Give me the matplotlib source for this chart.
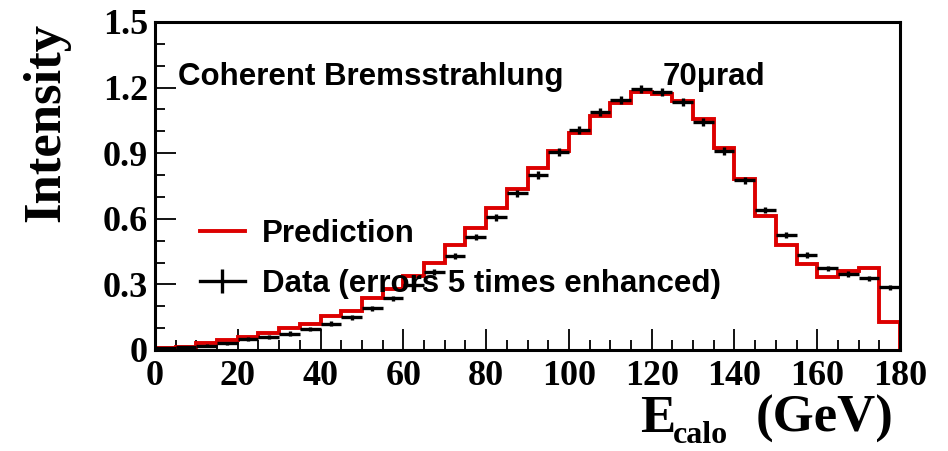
import matplotlib
matplotlib.use("Agg")
import matplotlib.pyplot as plt
from matplotlib.lines import Line2D
import numpy as np

# bins of 5 GeV from 0 to 180
bin_edges = np.arange(0, 181, 5)
prediction = [0.01, 0.015, 0.03, 0.045, 0.06, 0.08, 0.10, 0.12, 0.155, 0.18,
              0.236, 0.28, 0.34, 0.40, 0.48, 0.56, 0.65, 0.735, 0.834, 0.91,
              0.994, 1.07, 1.13, 1.18, 1.173, 1.138, 1.055, 0.925, 0.78, 0.613,
              0.48, 0.393, 0.332, 0.362, 0.377, 0.126]
data = [0.01, 0.015, 0.02, 0.03, 0.05, 0.06, 0.075, 0.095, 0.12, 0.15,
        0.19, 0.236, 0.297, 0.357, 0.43, 0.517, 0.606, 0.716, 0.80, 0.905,
        1.005, 1.088, 1.143, 1.195, 1.18, 1.136, 1.042, 0.91, 0.776, 0.64,
        0.525, 0.435, 0.373, 0.347, 0.327, 0.286]
data_err = [0.004, 0.005, 0.006, 0.007, 0.008, 0.009, 0.010, 0.010, 0.011, 0.012,
            0.012, 0.013, 0.013, 0.014, 0.015, 0.015, 0.016, 0.016, 0.017, 0.017,
            0.018, 0.018, 0.018, 0.018, 0.018, 0.018, 0.017, 0.017, 0.016, 0.015,
            0.014, 0.013, 0.012, 0.012, 0.012, 0.012]

serif = "Liberation Serif"
sans = "Liberation Sans"

fig = plt.figure(figsize=(9.48, 4.51), dpi=100)
ax = fig.add_axes([155/948, 1-350/451, 745/948, 328/451])

centers = 0.5 * (bin_edges[:-1] + bin_edges[1:])
half = 0.5 * np.diff(bin_edges)

ax.stairs(prediction, bin_edges, baseline=0, color="#dd0000", lw=2.8, zorder=2)
ax.errorbar(centers, data, xerr=half, yerr=data_err, fmt="none",
            ecolor="black", elinewidth=2.4, capsize=0, zorder=3)

ax.set_xlim(0, 180)
ax.set_ylim(0, 1.5)
ax.set_xticks(np.arange(0, 181, 20))
ax.set_xticks(np.arange(0, 181, 5), minor=True)
ax.set_yticks(np.arange(0, 1.51, 0.3))
ax.set_yticks(np.arange(0, 1.51, 0.1), minor=True)
ax.set_yticklabels(["0", "0.3", "0.6", "0.9", "1.2", "1.5"])

for s in ax.spines.values():
    s.set_linewidth(2.2)
ax.tick_params(which="both", direction="in", top=False, right=False, width=1.3)
ax.tick_params(which="major", length=15)
ax.tick_params(which="minor", length=7)
ax.tick_params(axis="y", pad=5)
ax.tick_params(axis="x", pad=7)
for lab in ax.get_xticklabels() + ax.get_yticklabels():
    lab.set_fontfamily(serif)
    lab.set_fontweight("bold")
    lab.set_fontsize(26)

ax.text(0.031, 0.808, "Coherent Bremsstrahlung", transform=ax.transAxes,
        fontfamily=sans, fontweight="bold", fontsize=22.5, va="baseline")
ax.text(0.682, 0.808, "70\u03bcrad", transform=ax.transAxes,
        fontfamily=sans, fontweight="bold", fontsize=22.5, va="baseline")

handles = [Line2D([], [], color="#dd0000", lw=2.8),
           Line2D([], [], color="black", lw=2.4, marker="|", markersize=17,
                  markeredgewidth=2.4)]
ax.legend(handles, ["Prediction", "Data (errors 5 times enhanced)"],
          loc="upper left", bbox_to_anchor=(0.06, 0.40), frameon=False,
          prop={"family": sans, "weight": "bold", "size": 22.5},
          handlelength=1.45, handletextpad=0.55, labelspacing=0.65,
          borderaxespad=0, borderpad=0)

fig.text(46/948, 1-23/451, "Intensity", rotation=90, ha="center", va="top",
         fontfamily=serif, fontweight="bold", fontsize=38)

# x axis title: E with lowered "calo" subscript, then (GeV)
fig.text(640/948, 1-432/451, "E", ha="left", va="baseline",
         fontfamily=serif, fontweight="bold", fontsize=38)
fig.text(673/948, 1-443/451, "calo", ha="left", va="baseline",
         fontfamily=serif, fontweight="bold", fontsize=23)
fig.text(893/948, 1-432/451, "(GeV)", ha="right", va="baseline",
         fontfamily=serif, fontweight="bold", fontsize=38)

fig.savefig("out.png", dpi=100)
